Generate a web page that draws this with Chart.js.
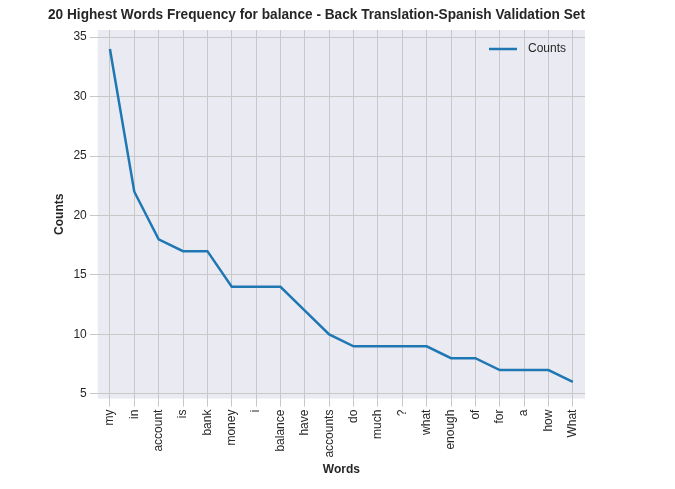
<!DOCTYPE html>
<html><head><meta charset="utf-8">
<script src="https://cdn.jsdelivr.net/npm/chart.js@4"></script>
<style>html,body{margin:0;padding:0;background:#fff}#w{width:675px;height:489px}</style>
</head><body><div id="w"><canvas id="c"></canvas></div>
<script>
const categories=["my","in","account","is","bank","money","i","balance","have","accounts","do","much","?","what","enough","of","for","a","how","What"];
const counts=[34,22,18,17,17,14,14,14,12,10,9,9,9,9,8,8,7,7,7,6];
const yTicks=[5,10,15,20,25,30,35];
const bg={id:'bg',beforeDraw(ch){const a=ch.chartArea,x=ch.ctx;x.save();x.fillStyle='#EAEAF2';x.fillRect(a.left,a.top,a.right-a.left,a.bottom-a.top);x.restore();},
afterDraw(ch){const a=ch.chartArea,x=ch.ctx;x.save();const y=a.top+19;x.strokeStyle='#1f77b4';x.lineWidth=2.5;x.beginPath();x.moveTo(a.right-96,y);x.lineTo(a.right-68,y);x.stroke();
x.fillStyle='#262626';x.font='12px "Liberation Sans", Arial, sans-serif';x.textBaseline='middle';x.fillText('Counts',a.right-57,y);x.restore();}};
Chart.defaults.font.family='"Liberation Sans", Arial, sans-serif';
Chart.defaults.color='#262626';
new Chart(document.getElementById('c'),{type:'line',
data:{labels:categories,datasets:[{label:'Counts',data:counts,borderColor:'#1f77b4',backgroundColor:'#1f77b4',borderWidth:2.5,pointRadius:0,tension:0}]},
options:{responsive:true,maintainAspectRatio:false,animation:false,
layout:{padding:{left:48,right:90,top:0,bottom:10}},
plugins:{title:{display:true,text:'20 Highest Words Frequency for balance - Back Translation-Spanish Validation Set',font:{size:15,weight:'bold'},padding:{top:6,bottom:6},color:'#262626'},
legend:{display:false}},
scales:{x:{offset:true,grid:{color:'#c8c8c8',offset:false},border:{display:false},title:{display:true,text:'Words',font:{size:12,weight:'bold'},padding:2},ticks:{minRotation:90,maxRotation:90,font:{size:12},autoSkip:false}},
y:{min:4.6,max:35.6,grid:{color:'#c8c8c8'},border:{display:false},title:{display:true,text:'Counts',font:{size:12,weight:'bold'}},
afterBuildTicks(s){s.ticks=yTicks.map(v=>({value:v}));},ticks:{font:{size:12}}}}},
plugins:[bg]});
</script></body></html>
